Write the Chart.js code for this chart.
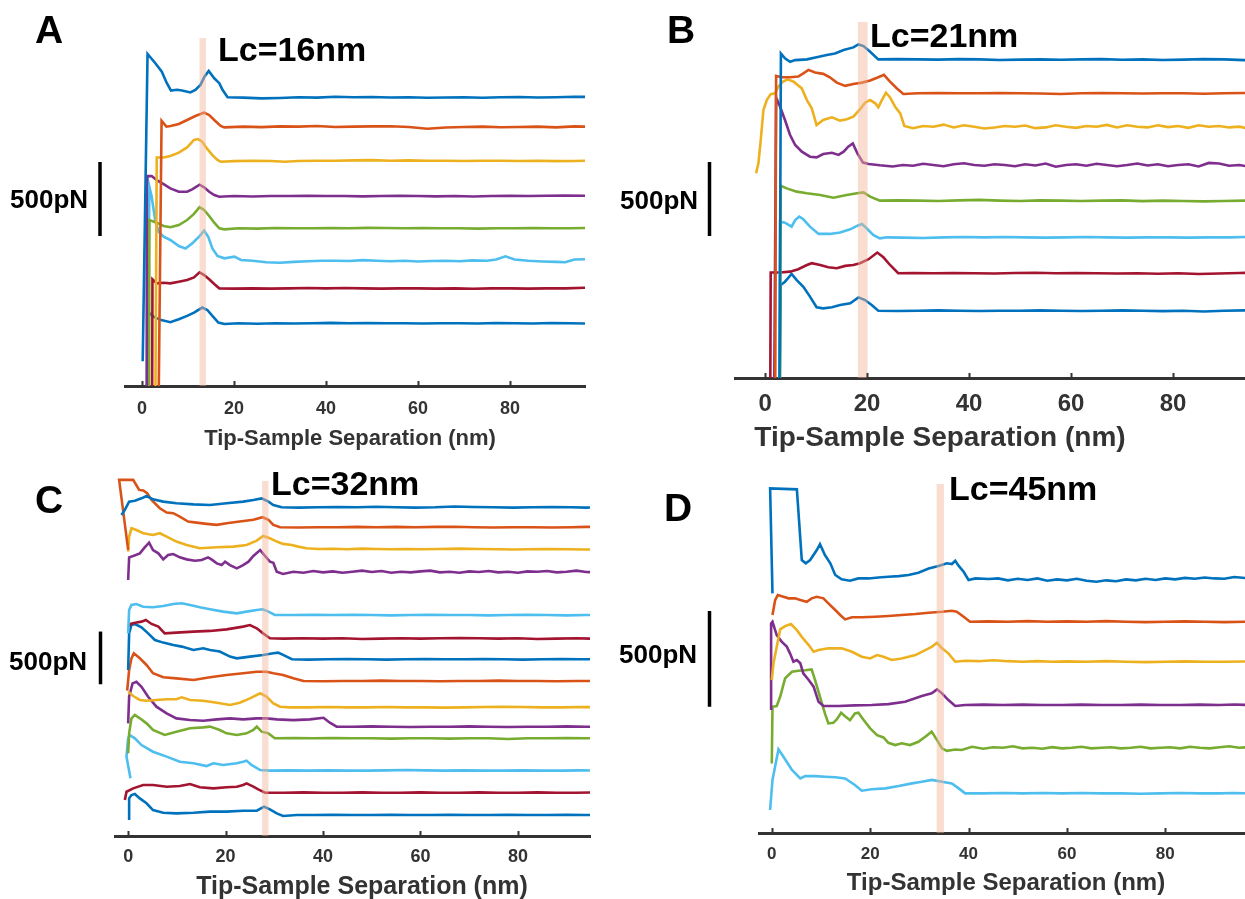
<!DOCTYPE html>
<html>
<head>
<meta charset="utf-8">
<title>Force curves</title>
<script src="https://cdn.jsdelivr.net/npm/chart.js@4.4.1/dist/chart.umd.min.js"></script>
<style>
  body { margin: 0; background: #fff; }
  #fig { position: relative; width: 1245px; height: 899px; overflow: hidden; font-family: "Liberation Sans", Arial, sans-serif; }
  .panel { position: absolute; }
  .lbl { position: absolute; font-weight: bold; line-height: 1; white-space: nowrap; color: #000; }
  .xt { position: absolute; width: 400px; text-align: center; font-weight: bold; line-height: 1; white-space: nowrap; color: #333; }
</style>
</head>
<body>
<div id="fig">
  <div class="panel" style="left:0;top:0;width:600px;height:460px"><canvas id="chartA"></canvas></div>
  <div class="panel" style="left:600px;top:0;width:645px;height:460px"><canvas id="chartB"></canvas></div>
  <div class="panel" style="left:0;top:450px;width:600px;height:449px"><canvas id="chartC"></canvas></div>
  <div class="panel" style="left:600px;top:450px;width:645px;height:449px"><canvas id="chartD"></canvas></div>

  <div class="lbl" style="left:35px;top:10px;font-size:39px">A</div>
  <div class="lbl" style="left:667px;top:10px;font-size:39px">B</div>
  <div class="lbl" style="left:35px;top:480px;font-size:39px">C</div>
  <div class="lbl" style="left:664px;top:488px;font-size:39px">D</div>

  <div class="lbl" style="left:218px;top:32px;font-size:34px">Lc=16nm</div>
  <div class="lbl" style="left:870px;top:18px;font-size:34px">Lc=21nm</div>
  <div class="lbl" style="left:271px;top:466px;font-size:34px">Lc=32nm</div>
  <div class="lbl" style="left:949px;top:471px;font-size:34px">Lc=45nm</div>

  <div class="lbl" style="left:10px;top:186px;font-size:26px">500pN</div>
  <div class="lbl" style="left:620px;top:187px;font-size:26px">500pN</div>
  <div class="lbl" style="left:9px;top:648px;font-size:26px">500pN</div>
  <div class="lbl" style="left:619px;top:641px;font-size:26px">500pN</div>

  <div class="xt" style="left:150px;top:427px;font-size:22px">Tip-Sample Separation (nm)</div>
  <div class="xt" style="left:740px;top:423px;font-size:28px">Tip-Sample Separation (nm)</div>
  <div class="xt" style="left:162px;top:873px;font-size:25px">Tip-Sample Separation (nm)</div>
  <div class="xt" style="left:806px;top:870px;font-size:24px">Tip-Sample Separation (nm)</div>
</div>
<script>
// x ticks shared by all four panels (nm)
const tickNm = [0, 20, 40, 60, 80];

// ---- A: Lc = 16 nm ---- points are [separation nm, force pN above the curve's own baseline]
const lcA = [12.5, 13.9];
const offsetsA = [1952, 1753, 1523, 1284, 1066, 847, 660, 424];
const A1 = [[0.15,-1784],[1.2,292],[2.9,230],[4.3,173],[5.4,95],[6.3,45],[7.6,50],[8.7,45],[10.5,32],[11.6,50],[12.7,83],[13.6,140],[14.5,178],[15.7,128],[16.8,95],[17.5,50],[18.6,0],
  [22,-3],[26,-8],[30,-5],[34,0],[38,-3],[42,3],[46,0],[50,2],[54,-2],[58,0],[62,-4],[66,-2],[70,0],[74,-4],[78,0],[82,2],[86,-2],[90,0],[94,3],[97,2]];
const A2 = [[3.6,-1900],[4.25,40],[5.3,0],[6.2,5],[8.0,18],[9.8,45],[11.6,72],[13.5,95],[14.6,79],[15.7,45],[17.1,5],[17.9,-5],
  [22,0],[26,-3],[30,2],[34,0],[38,4],[42,-2],[46,0],[50,2],[54,3],[58,-2],[62,-14],[66,-6],[70,-2],[74,0],[78,-4],[82,-2],[86,0],[90,-5],[94,2],[97,0]];
const A3 = [[2.86,-1900],[3.2,22],[4.7,22],[6.15,32],[8.0,54],[9.8,90],[11.3,140],[12.2,146],[13.1,128],[14.1,83],[15.3,38],[16.4,5],[17.1,-7],
  [20,-3],[24,0],[28,-2],[31,-7],[34,-2],[38,0],[42,0],[46,2],[50,4],[54,0],[58,2],[62,0],[66,0],[70,-2],[74,0],[78,0],[82,-2],[86,0],[90,-3],[94,-2],[97,0]];
const A4 = [[0.9,-1900],[1.03,63],[1.17,135],[2.1,135],[3.2,108],[4.7,81],[6.15,52],[8.0,29],[9.8,29],[10.9,45],[12.5,77],[13.5,59],[14.6,29],[15.7,7],[16.8,-5],
  [20,0],[24,-3],[28,0],[32,0],[36,2],[40,0],[44,0],[48,-2],[52,0],[56,2],[60,0],[64,-2],[68,0],[72,-3],[76,0],[80,2],[84,0],[88,2],[92,4],[97,2]];
const A5 = [[1.5,-1900],[1.6,56],[3.2,38],[4.7,16],[6.15,7],[8.0,22],[9.8,56],[11.3,97],[12.5,142],[13.5,124],[14.6,83],[15.7,38],[16.8,0],[17.9,-7],
  [21,0],[25,-2],[29,2],[33,0],[37,0],[41,2],[45,0],[49,3],[53,2],[57,0],[61,2],[65,0],[69,0],[73,-2],[77,0],[81,0],[85,2],[89,0],[93,0],[97,2]];
const A6 = [[0.88,-1900],[1.6,500],[2.1,432],[2.86,275],[3.6,196],[4.7,162],[6.15,140],[8.0,99],[9.45,83],[10.9,117],[12.4,162],[13.5,203],[14.4,162],[15.3,83],[16.4,32],[17.9,16],[20.1,27],[21.5,5],
  [24,0],[27,-10],[30,-14],[33,-8],[36,-4],[39,0],[42,0],[45,-2],[48,4],[51,0],[54,-4],[57,0],[60,-5],[63,-2],[66,0],[69,-4],[72,2],[75,0],[77,8],[79,30],[81,8],[84,0],[87,-5],[90,-8],[92,-10],[94,8],[97,10]];
const A7 = [[2.1,-1900],[2.27,61],[3.2,34],[4.7,38],[6.15,34],[8.0,45],[9.8,56],[11.3,74],[12.5,108],[13.5,90],[14.6,61],[15.7,29],[16.8,0],
  [20,-2],[24,0],[28,-2],[32,0],[36,2],[40,0],[44,2],[48,0],[52,-2],[56,0],[60,0],[64,-2],[68,0],[72,-3],[76,0],[80,0],[84,-2],[88,0],[92,0],[97,5]];
const A8 = [[0.88,-1900],[1.17,79],[2.5,45],[3.96,23],[6.15,7],[8.0,27],[9.8,50],[11.3,72],[13.1,106],[14.2,90],[15.3,50],[16.6,5],[17.9,-5],
  [21,0],[25,-3],[29,0],[33,-2],[37,0],[41,3],[45,0],[49,2],[53,0],[57,0],[61,-2],[65,0],[69,0],[73,-2],[77,2],[81,0],[85,-2],[89,2],[93,0],[97,-2]];

// ---- B: Lc = 21 nm ----
const lcB = [18.2, 20.1];
const offsetsB = [2154, 1925, 1699, 1440, 1199, 951, 708, 455];
const B1 = [[2.8,-2400],[3.1,40],[3.9,7],[4.9,-16],[5.9,-5],[8.2,0],[10.1,14],[12.1,29],[13.7,40],[15.4,63],[17.3,81],[18.3,101],[19.3,90],[20.6,52],[22.2,0],
  [26,2],[30,0],[34,-2],[38,2],[42,0],[46,-4],[50,-2],[54,0],[58,-3],[62,0],[66,2],[70,-3],[74,0],[78,-4],[82,-2],[86,2],[90,0],[94,-5],[97,-4]];
const B2 = [[1.96,-2400],[2.16,117],[3.27,108],[4.9,108],[6.5,113],[7.5,135],[8.5,158],[9.8,140],[11.4,131],[12.7,108],[14.05,72],[15.7,50],[17.3,63],[19.0,72],[20.6,86],[22.2,108],[23.3,124],[24.5,79],[25.8,34],[27.1,-5],
  [30,0],[34,2],[38,0],[42,0],[46,2],[50,0],[54,-2],[58,-5],[62,0],[66,2],[70,0],[74,-2],[78,0],[82,0],[86,-3],[90,0],[94,2],[97,0]];
const B3 = [[-1.76,-315],[-1.31,-248],[-0.85,-90],[-0.33,113],[0.33,180],[1.1,220],[1.96,225],[2.6,270],[3.46,304],[4.4,320],[5.6,304],[7.2,259],[8.2,180],[9.15,124],[10.1,11],[11.4,45],[13.1,63],[14.7,41],[16.0,50],[17.3,68],[18.6,117],[19.6,162],[20.6,180],[21.6,158],[22.2,131],[22.9,180],[23.7,230],[24.5,198],[25.5,135],[26.5,90],[27.3,5],
  [29,-10],[31,5],[33,0],[35,14],[37,-5],[39,10],[41,0],[43,-12],[45,-5],[47,5],[49,0],[51,8],[53,-10],[55,-5],[57,10],[59,0],[61,-8],[63,5],[65,0],[67,12],[69,-5],[71,10],[73,0],[75,-5],[77,10],[79,-3],[81,5],[83,-8],[85,10],[87,0],[89,5],[91,-5],[93,0],[95,-14],[97,-8]];
const B4 = [[1.63,-2400],[2.16,457],[2.94,394],[3.9,304],[4.9,203],[5.9,135],[7.2,90],[8.8,56],[10.1,52],[11.4,74],[13.1,83],[14.4,68],[15.4,90],[16.3,124],[17.2,146],[18.1,79],[19.2,16],[20.3,7],[22.5,-2],
  [25,-10],[27,0],[29,-5],[31,8],[33,0],[35,-8],[37,5],[39,12],[41,0],[43,-5],[45,5],[47,0],[49,-8],[51,5],[53,-3],[55,10],[57,-12],[59,0],[61,5],[63,-5],[65,8],[67,0],[69,-8],[71,0],[73,10],[75,-3],[77,5],[79,-8],[81,0],[83,5],[85,-10],[87,14],[89,10],[91,-5],[93,0],[95,-12],[97,-10]];
const B5 = [[2.8,-2400],[3.07,101],[4.25,83],[6.2,61],[8.2,50],[10.8,38],[13.4,20],[16.0,38],[18.0,50],[19.3,56],[20.6,27],[22.5,0],
  [26,2],[30,0],[34,-2],[38,2],[42,5],[46,0],[50,-2],[54,2],[58,0],[62,-2],[66,0],[70,2],[74,-3],[78,0],[82,-2],[86,-5],[90,-2],[94,0],[97,2]];
const B6 = [[2.6,-2400],[2.94,106],[3.9,99],[5.2,72],[5.9,117],[6.7,140],[7.5,122],[8.8,72],[10.5,23],[12.7,23],[14.7,32],[16.7,54],[18.0,77],[19.0,90],[19.9,61],[21.2,16],[22.5,-7],[23.9,0],
  [27,-2],[31,-5],[35,0],[39,2],[43,0],[47,2],[51,0],[55,-2],[59,0],[63,2],[67,0],[71,-2],[75,0],[79,0],[83,-2],[87,0],[91,0],[94,2],[97,0]];
const B7 = [[0.85,-2400],[1.1,5],[2.94,5],[4.9,11],[6.5,27],[8.2,56],[9.15,68],[10.8,56],[12.4,41],[14.05,34],[15.7,50],[17.3,56],[18.6,68],[20.3,95],[22.0,140],[23.2,108],[24.5,56],[26.1,0],
  [29,2],[33,0],[37,2],[41,0],[45,-2],[49,2],[53,4],[57,0],[61,2],[65,0],[69,-2],[73,0],[77,-3],[81,0],[85,-5],[89,-2],[93,2],[97,5]];
const B8 = [[2.3,-2400],[3.07,173],[3.9,196],[5.2,248],[6.2,207],[7.5,162],[8.8,95],[10.1,23],[11.4,16],[13.1,23],[14.7,38],[16.7,50],[18.3,90],[19.6,72],[20.9,38],[22.2,0],
  [26,-2],[30,0],[34,2],[38,0],[42,-2],[46,0],[50,0],[54,2],[58,0],[62,-2],[66,0],[70,2],[74,0],[78,-3],[82,0],[86,-5],[90,0],[94,2],[97,0]];

// ---- C: Lc = 32 nm ----
const lcC = [27.5, 28.8];
const offsetsC = [3119, 2930, 2721, 2508, 2097, 1876, 1677, 1471, 1221, 1037, 927, 620, 411, 199];
const C1 = [[-1.37,-73],[-0.68,-25],[0.2,54],[1.37,63],[2.74,85],[3.77,107],[5.1,76],[7.2,54],[9.9,38],[13.4,28],[16.8,22],[20.2,38],[23.6,54],[25.7,70],[27.4,85],[28.8,54],[29.8,22],[31.5,0],
  [35,-3],[39,0],[43,3],[47,0],[51,5],[55,0],[59,-3],[63,0],[67,8],[71,3],[75,0],[79,-3],[83,0],[87,3],[91,0],[94,-3],[97,0]];
const C2 = [[0,-215],[-1.85,449],[1.03,449],[2.26,354],[3.08,348],[3.9,322],[4.8,259],[6.5,180],[7.9,139],[9.25,133],[10.6,101],[12.3,54],[14.0,44],[16.1,32],[18.2,22],[20.2,38],[22.9,54],[25.7,70],[27.6,95],[28.8,70],[29.8,22],[31.2,0],
  [35,-3],[39,0],[43,0],[47,3],[51,0],[55,3],[59,0],[63,3],[67,5],[71,0],[75,-3],[79,0],[83,0],[87,-3],[91,0],[94,3],[97,3]];
const C3 = [[0,-22],[0.2,120],[0.68,199],[1.7,183],[3.08,152],[5.1,136],[6.5,152],[7.9,120],[9.9,73],[12.0,41],[14.7,9],[18.2,19],[21.6,25],[24.3,41],[26.4,82],[27.7,126],[29.1,104],[30.5,73],[31.8,51],[33.6,41],[34.9,25],[36.6,9],
  [39,3],[42,5],[45,0],[48,6],[51,3],[54,0],[57,3],[60,0],[64,3],[68,6],[72,3],[76,0],[79,-3],[82,0],[86,3],[90,0],[94,-3],[97,0]];
const C4 = [[0,-79],[0.2,136],[1.03,149],[2.4,174],[3.4,231],[4.3,275],[5.1,205],[6.2,174],[7.2,117],[8.2,158],[9.25,167],[10.6,136],[12.0,117],[13.7,104],[15.1,111],[16.4,136],[17.1,117],[18.2,79],[19.2,63],[19.9,95],[20.9,63],[22.3,32],[23.6,63],[24.7,95],[25.7,149],[27.1,205],[28.1,149],[29.1,95],[29.8,85],[30.5,0],[31.8,-22],[33.9,0],
  [36,-10],[38,6],[40,-6],[42,3],[44,-10],[46,0],[48,10],[50,-3],[52,6],[54,-10],[56,0],[58,-6],[60,3],[62,10],[64,-6],[66,0],[68,-10],[70,3],[72,-3],[74,6],[76,-6],[78,0],[80,-10],[82,3],[84,0],[86,6],[88,-6],[90,0],[92,10],[94,-3],[97,-6]];
const C5 = [[0,-174],[0.2,47],[0.68,95],[1.7,104],[3.08,79],[5.1,73],[7.2,85],[9.25,104],[11.0,111],[12.7,95],[14.7,73],[16.8,54],[19.5,32],[22.3,16],[24.3,32],[26.4,47],[27.6,54],[28.8,32],[30.1,0],
  [34,0],[38,3],[42,0],[46,3],[50,0],[54,-3],[58,0],[62,3],[66,0],[70,0],[74,-3],[78,0],[82,3],[86,0],[90,-3],[94,0],[97,0]];
const C6 = [[0.2,111],[0.48,136],[1.7,149],[2.74,158],[3.63,174],[4.8,136],[6.2,111],[7.5,47],[9.9,54],[13.4,63],[16.8,70],[20.2,85],[23.6,111],[25.0,126],[26.4,95],[27.7,47],[29.1,0],
  [32,-3],[36,0],[40,-3],[44,0],[48,-6],[52,-3],[56,0],[60,-3],[64,0],[68,3],[72,0],[76,-3],[80,0],[84,-6],[88,-3],[92,0],[97,-6]];
const C7 = [[0,-101],[0.2,246],[0.68,325],[1.37,335],[2.74,303],[4.1,246],[5.5,183],[7.2,158],[9.25,136],[11.0,120],[13.4,88],[15.4,104],[16.8,88],[18.8,73],[20.9,25],[22.3,9],[25.0,25],[27.7,41],[29.8,57],[30.8,63],[31.8,41],[33.6,0],
  [37,-3],[41,0],[45,3],[49,0],[53,-3],[57,0],[61,3],[65,0],[69,0],[73,3],[77,0],[81,-3],[85,0],[89,3],[93,0],[97,0]];
const C8 = [[-0.2,-92],[0.2,104],[0.68,215],[1.16,262],[2.4,215],[3.77,152],[5.1,73],[7.2,35],[9.9,25],[13.4,9],[16.8,35],[20.2,57],[23.6,73],[26.4,88],[28.4,88],[29.8,73],[31.8,57],[33.9,25],[36.0,0],
  [40,-3],[44,0],[48,0],[52,3],[56,0],[60,0],[64,-3],[68,0],[72,0],[76,3],[80,0],[84,0],[88,-3],[92,0],[97,0]];
const C9 = [[0,149],[1.03,107],[2.4,70],[3.77,63],[5.8,70],[7.9,76],[9.9,76],[11.0,95],[12.7,70],[15.4,63],[18.2,44],[20.9,22],[22.9,44],[25.0,85],[27.1,133],[28.4,101],[29.8,38],[31.2,6],[33.2,0],
  [37,0],[41,3],[45,0],[49,0],[53,3],[57,0],[61,0],[65,-3],[69,0],[73,3],[77,6],[81,3],[85,0],[89,0],[93,3],[97,0]];
const C10 = [[0,32],[0.2,284],[0.9,411],[1.7,427],[2.74,379],[4.1,284],[5.8,190],[7.9,126],[9.9,79],[12.7,63],[15.4,57],[18.2,70],[20.9,79],[23.6,70],[26.4,79],[28.4,79],[30.5,70],[33.9,63],[37.3,70],[40.1,85],[41.4,38],[42.8,0],
  [46,0],[50,3],[54,0],[58,-3],[62,0],[66,0],[70,3],[74,0],[78,-3],[82,0],[86,0],[90,3],[94,0],[97,0]];
const C11 = [[0,-142],[0.2,47],[0.68,190],[1.37,221],[2.4,190],[3.77,142],[5.1,79],[7.5,32],[9.9,63],[12.7,95],[15.4,104],[16.8,111],[18.8,79],[20.2,47],[22.3,32],[24.3,47],[25.7,79],[26.4,111],[27.4,63],[28.8,47],[30.1,0],
  [34,3],[38,0],[42,3],[46,0],[50,0],[54,-3],[58,0],[62,0],[66,-3],[70,0],[74,0],[78,-6],[82,0],[86,0],[90,3],[94,0],[97,0]];
const C12 = [[0.48,-73],[-0.34,133],[0,307],[0.34,338],[1.37,307],[2.74,243],[5.1,180],[7.9,133],[10.6,85],[13.4,70],[16.1,44],[17.5,70],[19.5,54],[22.3,70],[23.6,85],[24.3,95],[25.3,54],[27.1,6],[29.1,0],
  [33,3],[37,0],[41,3],[45,0],[49,0],[53,3],[57,6],[61,3],[65,0],[69,3],[73,0],[77,0],[81,3],[85,0],[89,0],[93,3],[97,0]];
const C13 = [[-0.68,-70],[-0.34,9],[1.03,41],[3.08,73],[5.1,73],[7.9,57],[10.6,63],[12.7,82],[14.7,51],[17.5,41],[20.2,51],[22.3,57],[23.6,73],[24.3,88],[25.7,57],[26.7,32],[28.1,0],
  [32,0],[36,3],[40,0],[44,0],[48,3],[52,0],[56,0],[60,3],[64,0],[68,0],[72,3],[76,0],[80,0],[84,3],[88,0],[92,0],[97,3]];
const C14 = [[0.2,-47],[0.2,158],[0.68,190],[1.37,199],[2.4,158],[3.77,111],[5.1,47],[7.2,22],[9.9,16],[13.4,22],[16.8,32],[20.2,32],[23.6,41],[26.4,41],[27.9,79],[29.1,54],[30.5,16],[31.8,-9],[34.6,0],
  [38,0],[42,3],[46,0],[50,0],[54,3],[58,0],[62,0],[66,3],[70,0],[74,0],[78,3],[82,0],[86,0],[90,3],[94,0],[97,0]];

// ---- D: Lc = 45 nm ----
const lcD = [33.5, 35.0];
const offsetsD = [1324, 1103, 894, 668, 445, 207];
const D1 = [[0.14,-73],[-0.34,475],[5.1,470],[6.1,101],[6.9,84],[7.8,101],[9.15,153],[9.8,184],[10.8,127],[11.9,84],[12.9,23],[14.2,0],[15.9,-7],[17.6,5],[19.7,5],[21.7,10],[23.7,14],[25.8,17],[27.8,23],[29.8,35],[31.9,57],[33.9,70],[35.6,84],[36.6,80],[37.3,97],[38.0,70],[39.0,40],[40.0,-3],[41.4,5],[44.1,2],
  [46,5],[48,-5],[50,3],[52,-3],[54,5],[56,-7],[58,0],[60,-5],[62,3],[64,-7],[66,-12],[68,-5],[70,-10],[72,0],[74,-5],[76,3],[78,-3],[80,5],[82,0],[84,8],[86,3],[88,10],[90,5],[92,3],[94,12],[97,5]];
const D2 = [[0.14,35],[0.68,113],[1.22,139],[2.37,130],[3.4,122],[4.75,122],[5.8,113],[7.1,104],[8.1,122],[9.15,130],[10.5,122],[11.5,96],[12.9,61],[13.9,35],[14.9,12],[16.3,23],[18.3,23],[21.0,26],[23.7,30],[26.4,35],[29.2,40],[31.9,47],[34.6,52],[36.6,57],[37.6,52],[39.0,26],[40.3,0],
  [44,2],[48,0],[52,3],[56,0],[60,2],[64,0],[68,3],[72,0],[76,-2],[80,0],[84,2],[88,0],[92,-2],[97,0]];
const D3 = [[0,-96],[0.34,-9],[1.7,169],[2.7,186],[3.9,197],[5.1,165],[6.1,130],[7.5,87],[8.5,52],[9.5,61],[11.5,70],[14.2,70],[16.3,52],[18.3,26],[20.0,17],[21.4,35],[22.7,26],[24.4,9],[26.4,17],[29.2,35],[31.2,61],[32.5,78],[33.6,99],[34.6,70],[35.9,44],[37.3,0],[39.3,5],
  [42,3],[45,8],[48,3],[51,0],[54,3],[57,0],[60,2],[64,0],[68,3],[72,0],[76,-2],[80,0],[84,2],[88,0],[92,0],[97,2]];
const D4 = [[-0.14,-26],[-0.14,426],[0.14,435],[1.0,365],[2.0,331],[3.05,305],[3.7,270],[4.4,226],[5.1,235],[5.8,218],[6.4,165],[7.5,131],[8.5,96],[9.5,17],[10.5,-5],[13.6,-5],[16.9,-2],[20.3,0],[23.7,5],[27.1,17],[30.5,47],[32.5,61],[33.6,82],[34.6,61],[35.9,26],[37.3,-5],[39.3,0],
  [43,2],[47,0],[51,2],[55,0],[59,0],[63,2],[67,0],[71,0],[75,2],[79,0],[83,0],[87,2],[91,0],[94,3],[97,0]];
const D5 = [[0,-82],[0.14,214],[1.0,218],[1.7,266],[2.7,362],[4.1,397],[5.4,402],[6.8,405],[8.1,409],[8.8,353],[9.8,266],[10.8,179],[11.5,127],[12.5,130],[13.2,148],[14.1,183],[14.9,165],[15.9,144],[16.9,179],[17.6,183],[18.6,148],[20.0,101],[21.4,66],[22.7,54],[23.7,26],[25.1,14],[26.4,23],[28.1,14],[29.8,31],[31.2,57],[32.5,84],[33.6,40],[34.6,-3],[35.6,-16],[37.3,-9],[38.6,-12],[40.7,5],
  [43,-5],[45,3],[47,0],[49,8],[51,-3],[53,0],[55,-5],[57,3],[59,-3],[61,0],[63,5],[65,-3],[67,0],[69,3],[71,-3],[73,0],[75,5],[77,-3],[79,0],[81,3],[83,-3],[85,5],[87,0],[89,-3],[91,3],[93,8],[95,0],[97,3]];
const D6 = [[-0.34,-87],[0.14,70],[1.36,230],[2.37,191],[4.1,122],[5.8,78],[6.8,90],[8.8,90],[10.8,87],[12.9,84],[14.9,78],[16.9,44],[18.3,14],[20.3,21],[23.1,26],[25.8,38],[28.5,52],[30.5,61],[32.5,70],[34.6,61],[36.6,52],[38.0,26],[39.3,0],
  [43,0],[47,2],[51,0],[55,2],[59,0],[63,2],[67,0],[71,0],[75,-2],[79,0],[83,2],[87,0],[91,0],[94,2],[97,0]];

// MATLAB-style line colours
const palette = {
  blue: '#0072BD', orange: '#D95319', yellow: '#EDB120', purple: '#7E2F8E',
  green: '#77AC30', cyan: '#4DBEEE', red: '#A2142F'
};
const fontFamily = '"Liberation Sans", Arial, sans-serif';

// Lc band (drawn over the curves), the 500 pN bar and short inward ticks
const marks = {
  id: 'marks',
  afterDatasetsDraw(chart, args, o) {
    const {ctx, chartArea, scales: {x, y}} = chart;
    ctx.save();
    const x0 = x.getPixelForValue(o.bandFrom);
    const x1 = x.getPixelForValue(o.bandTo);
    const top = y.getPixelForValue(o.bandTop);
    ctx.fillStyle = 'rgba(242,180,150,0.45)';
    ctx.fillRect(x0, top, x1 - x0, chartArea.bottom - top);

    ctx.strokeStyle = '#000';
    ctx.lineWidth = 3.5;
    ctx.beginPath();
    ctx.moveTo(o.barX, y.getPixelForValue(o.barFrom));
    ctx.lineTo(o.barX, y.getPixelForValue(o.barFrom + o.barSize));
    ctx.stroke();
    ctx.restore();
  },
  afterDraw(chart) {
    const {ctx, scales: {x}} = chart;
    ctx.save();
    ctx.strokeStyle = '#333';
    ctx.lineWidth = 2;
    x.ticks.forEach(t => {
      const px = Math.round(x.getPixelForValue(t.value)) + 0.5;
      ctx.beginPath();
      ctx.moveTo(px, x.top);
      ctx.lineTo(px, x.top - 5);
      ctx.stroke();
    });
    ctx.restore();
  }
};

function panel(id, traces, offsets, colors, lc, s) {
  const datasets = traces.map((t, i) => ({
    data: t.map(p => ({x: p[0], y: offsets[i] + p[1]})),
    borderColor: palette[colors[i]],
    borderWidth: 2.6,
    pointRadius: 0,
    showLine: true,
    tension: 0,
    fill: false
  }));
  return new Chart(document.getElementById(id), {
    type: 'scatter',
    data: {datasets: datasets},
    plugins: [marks],
    options: {
      responsive: true,
      maintainAspectRatio: false,
      animation: false,
      events: [],
      layout: {padding: s.padding},
      plugins: {
        legend: {display: false},
        tooltip: {enabled: false},
        marks: {
          bandFrom: lc[0], bandTo: lc[1], bandTop: s.bandTop,
          barX: s.barX, barFrom: s.barFrom, barSize: 500
        }
      },
      scales: {
        x: {
          type: 'linear',
          min: s.xMin,
          max: s.xMax,
          afterBuildTicks: scale => { scale.ticks = tickNm.map(v => ({value: v})); },
          grid: {display: false, drawTicks: false},
          border: {display: true, color: '#333', width: 3},
          ticks: {
            color: '#333',
            padding: s.tickPad,
            maxRotation: 0,
            autoSkip: false,
            font: {family: fontFamily, size: s.tickSize, weight: 'bold', lineHeight: 1}
          }
        },
        y: {display: false, min: 0, max: s.yMax}
      }
    }
  });
}

panel('chartA', [A1, A2, A3, A4, A5, A6, A7, A8], offsetsA,
  ['blue', 'orange', 'yellow', 'purple', 'green', 'cyan', 'red', 'blue'], lcA,
  {padding: {left: 125, right: 15, top: 20, bottom: 28}, xMin: -3.7, xMax: 96.3, yMax: 2474,
   bandTop: 2352, barX: 100, barFrom: 1014, tickPad: 14, tickSize: 18});

panel('chartB', [B1, B2, B3, B4, B5, B6, B7, B8], offsetsB,
  ['blue', 'orange', 'yellow', 'purple', 'green', 'cyan', 'red', 'blue'], lcB,
  {padding: {left: 135, right: 0, top: 15, bottom: 30}, xMin: -5.9, xMax: 94.1, yMax: 2454,
   bandTop: 2407, barX: 109.5, barFrom: 960, tickPad: 14, tickSize: 24});

panel('chartC', [C1, C2, C3, C4, C5, C6, C7, C8, C9, C10, C11, C12, C13, C14], offsetsC,
  ['blue', 'orange', 'yellow', 'purple', 'cyan', 'red', 'blue', 'orange', 'yellow', 'purple', 'green', 'cyan', 'red', 'blue'], lcC,
  {padding: {left: 115, right: 10, top: 20, bottom: 21}, xMin: -2.7, xMax: 94.8, yMax: 3473,
   bandTop: 3369, barX: 100.5, barFrom: 1440, tickPad: 12, tickSize: 18});

panel('chartD', [D1, D2, D3, D4, D5, D6], offsetsD,
  ['blue', 'orange', 'yellow', 'purple', 'green', 'cyan'], lcD,
  {padding: {left: 159, right: 0, top: 20, bottom: 23}, xMin: -2.6, xMax: 96.2, yMax: 1895,
   bandTop: 1822, barX: 109.5, barFrom: 659, tickPad: 13, tickSize: 17});
</script>
</body>
</html>
